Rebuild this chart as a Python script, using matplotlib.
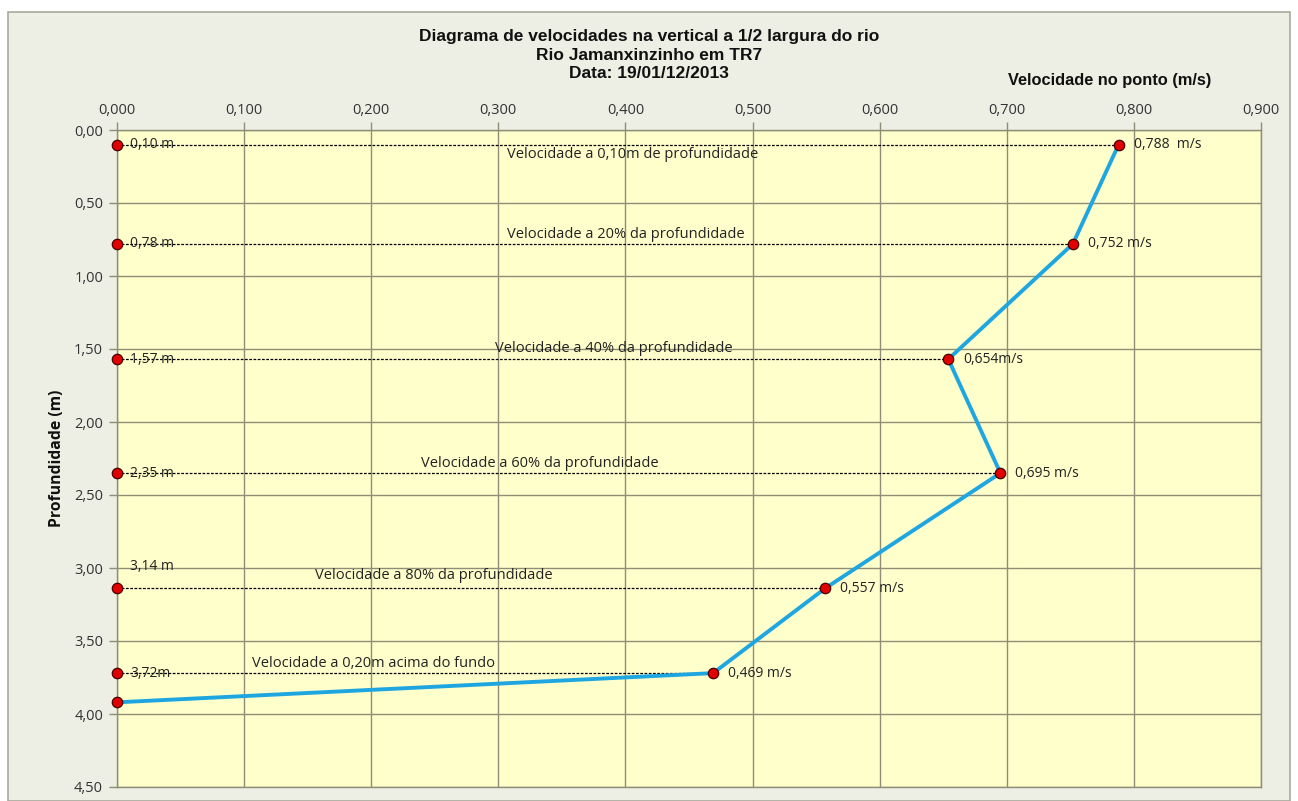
import matplotlib
matplotlib.use("Agg")
import matplotlib.pyplot as plt
from matplotlib.patches import Rectangle
from matplotlib.ticker import MultipleLocator, FuncFormatter

# ---- data ----
depths = [0.10, 0.78, 1.57, 2.35, 3.14, 3.72]
velocities = [0.788, 0.752, 0.654, 0.695, 0.557, 0.469]
bottom_depth = 3.92
bottom_velocity = 0.0
depth_labels = ["0,10 m", "0,78 m", "1,57 m", "2,35 m", "3,14 m", "3,72m"]
value_labels = ["0,788  m/s", "0,752 m/s", "0,654m/s", "0,695 m/s", "0,557 m/s", "0,469 m/s"]
point_titles = ["Velocidade a 0,10m de profundidade",
                "Velocidade a 20% da profundidade",
                "Velocidade a 40% da profundidade",
                "Velocidade a 60% da profundidade",
                "Velocidade a 80% da profundidade",
                "Velocidade a 0,20m acima do fundo"]
title_lines = ["Diagrama de velocidades na vertical a 1/2 largura do rio",
               "Rio Jamanxinzinho em TR7",
               "Data: 19/01/12/2013"]
x_label = "Velocidade no ponto (m/s)"
y_label = "Profundidade (m)"

# ---- layout / style ----
W, H = 1298, 801
fig = plt.figure(figsize=(W / 100, H / 100), dpi=100)
fig.patch.set_facecolor("white")
chart_bg = "#EDEFE4"
fig.patches.append(Rectangle((8 / W, 0), (1290 - 8) / W, 1 - 12 / H,
                             transform=fig.transFigure, facecolor=chart_bg,
                             edgecolor="#A9AA9C", linewidth=1.2, zorder=-10))

ax = fig.add_axes([117 / W, 1 - 787 / H, (1261 - 117) / W, (787 - 130) / H])
ax.set_facecolor("#FFFFCC")
ax.set_xlim(0, 0.9)
ax.set_ylim(4.5, 0)
grid_c = "#8E8E78"
ax.xaxis.set_major_locator(MultipleLocator(0.1))
ax.yaxis.set_major_locator(MultipleLocator(0.5))
ax.xaxis.set_major_formatter(FuncFormatter(lambda v, p: f"{v:.3f}".replace(".", ",")))
ax.yaxis.set_major_formatter(FuncFormatter(lambda v, p: f"{v:.2f}".replace(".", ",")))
ax.xaxis.tick_top()
ax.grid(True, color=grid_c, linewidth=1.0)
ax.set_axisbelow(True)
for s in ax.spines.values():
    s.set_color(grid_c)
    s.set_linewidth(1.0)
ax.tick_params(axis="both", colors=grid_c, length=6, width=1.0,
               labelcolor="#333333", labelsize=10.5)
for lab in ax.get_xticklabels() + ax.get_yticklabels():
    lab.set_fontfamily("Open Sans")
ax.tick_params(axis="x", pad=3)
ax.tick_params(axis="y", pad=4)

# dashed reference lines
for d, v in zip(depths, velocities):
    ax.plot([0, v], [d, d], color="black", linestyle=(0, (2.2, 1.2)), linewidth=0.9, zorder=3)

# profile line
ax.plot(velocities + [bottom_velocity], depths + [bottom_depth], color="#1EA6E0",
        linewidth=2.8, zorder=4, solid_capstyle="round")

# markers
mk = dict(marker="o", markersize=7.5, markerfacecolor="#E00000",
          markeredgecolor="#4A0000", markeredgewidth=0.9, linestyle="none", zorder=5)
ax.plot(velocities, depths, **mk)
ax.plot([0] * len(depths) + [bottom_velocity], depths + [bottom_depth], clip_on=False, **mk)

txtfont = dict(fontfamily="Open Sans", fontsize=10, color="#222222")
# depth labels
for i, (d, lab) in enumerate(zip(depths, depth_labels)):
    dy = 22 if i == 4 else 0
    ax.annotate(lab, (0, d), xytext=(13, dy), textcoords="offset pixels",
                ha="left", va="center", zorder=6, **txtfont)
# value labels
for d, v, lab in zip(depths, velocities, value_labels):
    ax.annotate(lab, (v, d), xytext=(15, 0), textcoords="offset pixels",
                ha="left", va="center", zorder=6, **txtfont)

# point titles (centre x in data units, vertical offset in pixels)
title_x = [0.406, 0.400, 0.391, 0.333, 0.249, 0.202]
title_dy = [-2, 2, 3, 2, 5, 2]
for i, (d, t) in enumerate(zip(depths, point_titles)):
    va = "top" if i == 0 else "bottom"
    ax.annotate(t, (title_x[i], d), xytext=(0, title_dy[i]), textcoords="offset pixels",
                ha="center", va=va, zorder=6, fontfamily="Open Sans", fontsize=10.5,
                color="#222222")

# titles and axis labels
ty = [37, 55, 74]
for line, y in zip(title_lines, ty):
    fig.text(649 / W, 1 - y / H, line, ha="center", va="center",
             fontfamily="Liberation Sans", fontweight="bold", fontsize=12.5, color="#111111")
fig.text(1110 / W, 1 - 80 / H, x_label, ha="center", va="center",
         fontfamily="Liberation Sans", fontweight="bold", fontsize=11.8, color="#111111")
fig.text(57 / W, 1 - 458 / H, y_label, ha="center", va="center", rotation=90,
         fontfamily="Open Sans", fontweight="bold", fontsize=11.3, color="#111111")

fig.savefig("out.png", dpi=100, facecolor=fig.get_facecolor())
